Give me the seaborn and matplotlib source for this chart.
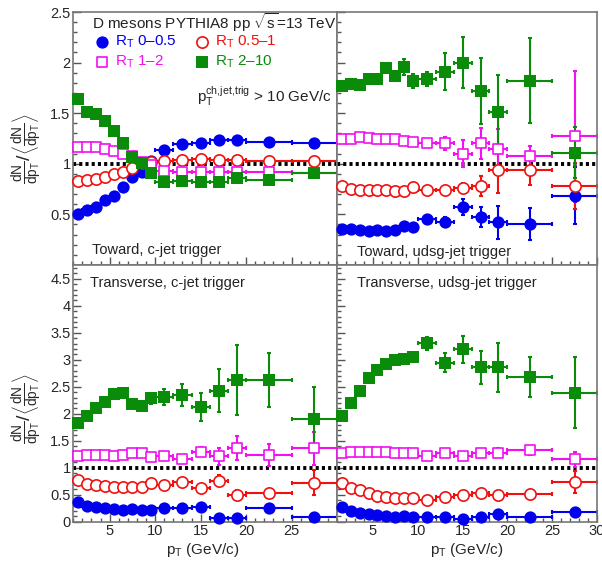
import numpy as np
import pandas as pd
import matplotlib
matplotlib.use('Agg')
import matplotlib.pyplot as plt
from matplotlib.ticker import MultipleLocator, FuncFormatter
import seaborn as sns

# pT bins (centre and half width, GeV/c)
pt = [1.5, 2.5, 3.5, 4.5, 5.5, 6.5, 7.5, 8.5, 9.5, 11, 13, 15, 17, 19, 22.5, 27.5]
pt_half = [0.5, 0.5, 0.5, 0.5, 0.5, 0.5, 0.5, 0.5, 0.5, 1, 1, 1, 1, 1, 2.5, 2.5]

# Toward, c-jet trigger
tow_c_rt1 = [0.50, 0.54, 0.57, 0.64, 0.68, 0.77, 0.87, 0.92, 1.03, 1.14, 1.19, 1.20, 1.23, 1.23, 1.21, 1.20]
tow_c_rt2 = [0.825, 0.84, 0.845, 0.87, 0.90, 0.92, 0.955, 1.005, 1.02, 1.03, 1.04, 1.05, 1.04, 1.035, 1.03, 1.03]
tow_c_rt3 = [1.17, 1.17, 1.165, 1.15, 1.13, 1.10, 1.08, 1.015, 0.99, 0.93, 0.92, 0.915, 0.915, 0.92, 0.92, 0.91]
tow_c_rt4 = [1.64, 1.51, 1.49, 1.42, 1.32, 1.20, 1.07, 1.01, 0.91, 0.82, 0.83, 0.82, 0.82, 0.855, 0.84, 0.91]
tow_c_err1 = [0.01, 0.01, 0.01, 0.01, 0.01, 0.01, 0.01, 0.01, 0.01, 0.01, 0.01, 0.01, 0.01, 0.02, 0.02, 0.02]
tow_c_err2 = [0.01, 0.01, 0.01, 0.01, 0.01, 0.01, 0.01, 0.01, 0.01, 0.01, 0.01, 0.01, 0.01, 0.02, 0.02, 0.02]
tow_c_err3 = [0.01, 0.01, 0.01, 0.01, 0.01, 0.01, 0.01, 0.01, 0.01, 0.01, 0.01, 0.02, 0.02, 0.02, 0.02, 0.02]
tow_c_err4 = [0.01, 0.01, 0.01, 0.01, 0.01, 0.01, 0.01, 0.01, 0.02, 0.02, 0.02, 0.02, 0.03, 0.03, 0.03, 0.03]

# Toward, udsg-jet trigger
tow_u_rt1 = [0.353, 0.353, 0.347, 0.33, 0.347, 0.33, 0.347, 0.38, 0.373, 0.45, 0.42, 0.57, 0.47, 0.42, 0.406, 0.683]
tow_u_rt2 = [0.775, 0.75, 0.743, 0.743, 0.743, 0.737, 0.726, 0.726, 0.77, 0.743, 0.743, 0.76, 0.78, 0.94, 0.94, 0.78]
tow_u_rt3 = [1.24, 1.245, 1.26, 1.255, 1.245, 1.245, 1.24, 1.22, 1.21, 1.20, 1.20, 1.10, 1.20, 1.145, 1.08, 1.27]
tow_u_rt4 = [1.77, 1.79, 1.78, 1.84, 1.84, 1.95, 1.87, 1.96, 1.82, 1.84, 1.91, 2.00, 1.72, 1.51, 1.82, 1.11]
tow_u_err1 = [0.01, 0.01, 0.01, 0.01, 0.01, 0.01, 0.01, 0.02, 0.02, 0.03, 0.05, 0.08, 0.10, 0.16, 0.16, 0.28]
tow_u_err2 = [0.01, 0.01, 0.01, 0.01, 0.01, 0.01, 0.02, 0.02, 0.02, 0.03, 0.04, 0.05, 0.10, 0.23, 0.15, 0.23]
tow_u_err3 = [0.01, 0.01, 0.01, 0.01, 0.01, 0.01, 0.02, 0.02, 0.02, 0.03, 0.06, 0.13, 0.155, 0.20, 0.10, 0.65]
tow_u_err4 = [0.02, 0.02, 0.02, 0.03, 0.03, 0.04, 0.05, 0.08, 0.07, 0.07, 0.18, 0.25, 0.33, 0.37, 0.42, 0.25]

# Transverse, c-jet trigger
tra_c_rt1 = [0.37, 0.29, 0.27, 0.25, 0.23, 0.22, 0.23, 0.22, 0.22, 0.25, 0.25, 0.27, 0.06, 0.06, 0.25, 0.09]
tra_c_rt2 = [0.77, 0.70, 0.68, 0.66, 0.65, 0.65, 0.64, 0.65, 0.71, 0.68, 0.74, 0.62, 0.76, 0.50, 0.54, 0.72]
tra_c_rt3 = [1.22, 1.24, 1.24, 1.24, 1.22, 1.24, 1.28, 1.28, 1.19, 1.22, 1.16, 1.30, 1.21, 1.36, 1.24, 1.36]
tra_c_rt4 = [1.83, 1.95, 2.10, 2.22, 2.36, 2.39, 2.18, 2.15, 2.29, 2.31, 2.35, 2.13, 2.43, 2.63, 2.63, 1.90]
tra_c_err1 = [0.01, 0.01, 0.01, 0.01, 0.01, 0.01, 0.01, 0.01, 0.01, 0.02, 0.02, 0.02, 0.03, 0.03, 0.03, 0.03]
tra_c_err2 = [0.01, 0.01, 0.01, 0.01, 0.01, 0.01, 0.02, 0.02, 0.02, 0.03, 0.04, 0.05, 0.10, 0.08, 0.06, 0.23]
tra_c_err3 = [0.02, 0.02, 0.02, 0.02, 0.02, 0.02, 0.03, 0.03, 0.03, 0.04, 0.05, 0.08, 0.15, 0.22, 0.20, 0.31]
tra_c_err4 = [0.02, 0.02, 0.03, 0.03, 0.04, 0.04, 0.05, 0.07, 0.10, 0.14, 0.20, 0.26, 0.40, 0.65, 0.50, 0.59]

# Transverse, udsg-jet trigger
tra_u_rt1 = [0.27, 0.20, 0.17, 0.14, 0.125, 0.11, 0.09, 0.11, 0.09, 0.09, 0.09, 0.045, 0.08, 0.14, 0.09, 0.185]
tra_u_rt2 = [0.72, 0.62, 0.59, 0.53, 0.48, 0.45, 0.43, 0.43, 0.43, 0.40, 0.45, 0.50, 0.54, 0.50, 0.51, 0.74]
tra_u_rt3 = [1.28, 1.30, 1.30, 1.30, 1.30, 1.30, 1.28, 1.28, 1.27, 1.21, 1.28, 1.21, 1.28, 1.28, 1.32, 1.16]
tra_u_rt4 = [1.96, 2.20, 2.42, 2.66, 2.81, 2.93, 3.00, 3.01, 3.06, 3.31, 2.95, 3.20, 2.86, 2.86, 2.68, 2.39]
tra_u_err1 = [0.01, 0.01, 0.01, 0.01, 0.01, 0.01, 0.01, 0.01, 0.01, 0.02, 0.02, 0.02, 0.03, 0.03, 0.03, 0.05]
tra_u_err2 = [0.01, 0.01, 0.01, 0.01, 0.01, 0.01, 0.01, 0.01, 0.01, 0.02, 0.02, 0.03, 0.04, 0.05, 0.05, 0.20]
tra_u_err3 = [0.01, 0.01, 0.01, 0.01, 0.01, 0.01, 0.01, 0.01, 0.02, 0.03, 0.04, 0.04, 0.05, 0.08, 0.08, 0.14]
tra_u_err4 = [0.02, 0.02, 0.03, 0.03, 0.04, 0.04, 0.05, 0.05, 0.07, 0.12, 0.18, 0.25, 0.30, 0.45, 0.37, 0.66]

series_labels = [r'R$_{\rm T}$ 0–0.5', r'R$_{\rm T}$ 0.5–1', r'R$_{\rm T}$ 1–2', r'R$_{\rm T}$ 2–10']
series_colors = ['#0000ee', '#f01010', '#f010f0', '#0a8c0a']
series_markers = ['o', 'o', 's', 's']
series_filled = [True, False, False, True]
series_sizes = [78, 66, 60, 64]

sns.set_theme(style='ticks')
plt.rcParams['font.family'] = ['Liberation Sans', 'DejaVu Sans']
plt.rcParams['mathtext.fontset'] = 'custom'
plt.rcParams['mathtext.rm'] = 'Liberation Sans'
plt.rcParams['mathtext.it'] = 'Liberation Sans'
plt.rcParams['mathtext.bf'] = 'Liberation Sans:bold'

fig = plt.figure(figsize=(6.02, 5.63), dpi=100)
gs = fig.add_gridspec(2, 2, left=73.3 / 602, right=597 / 602, top=1 - 12 / 563,
                      bottom=1 - 521.7 / 563, hspace=0, wspace=0,
                      height_ratios=[253, 257], width_ratios=[264, 260])
ax_tl = fig.add_subplot(gs[0, 0])
ax_tr = fig.add_subplot(gs[0, 1])
ax_bl = fig.add_subplot(gs[1, 0])
ax_br = fig.add_subplot(gs[1, 1])

panels = [
    (ax_tl, [tow_c_rt1, tow_c_rt2, tow_c_rt3, tow_c_rt4], [tow_c_err1, tow_c_err2, tow_c_err3, tow_c_err4],
     'Toward, c-jet trigger', 0.072, 0.06),
    (ax_tr, [tow_u_rt1, tow_u_rt2, tow_u_rt3, tow_u_rt4], [tow_u_err1, tow_u_err2, tow_u_err3, tow_u_err4],
     'Toward, udsg-jet trigger', 0.075, 0.05),
    (ax_bl, [tra_c_rt1, tra_c_rt2, tra_c_rt3, tra_c_rt4], [tra_c_err1, tra_c_err2, tra_c_err3, tra_c_err4],
     'Transverse, c-jet trigger', 0.064, 0.93),
    (ax_br, [tra_u_rt1, tra_u_rt2, tra_u_rt3, tra_u_rt4], [tra_u_err1, tra_u_err2, tra_u_err3, tra_u_err4],
     'Transverse, udsg-jet trigger', 0.077, 0.93),
]

for ax, vals, errs, label, lx, ly in panels:
    ax.axhline(1, color='black', lw=2.8, ls=(0, (0.8, 0.8)), zorder=1)
    for y, e, col, mk, filled, size in zip(vals, errs, series_colors, series_markers,
                                           series_filled, series_sizes):
        ax.errorbar(pt, y, xerr=pt_half, yerr=e, fmt='none', ecolor=col,
                    elinewidth=1.5, capsize=1.2, capthick=1.5, zorder=2)
        df = pd.DataFrame({'pt': pt, 'ratio': y})
        sns.scatterplot(data=df, x='pt', y='ratio', ax=ax, marker=mk, s=size,
                        color=col, facecolor=col if filled else 'white',
                        edgecolor=col, linewidth=0 if filled else 1.2,
                        zorder=3, clip_on=False, legend=False)
    ax.text(lx, ly, label, transform=ax.transAxes, fontsize=10.5,
            ha='left', va='center', color='#222222')
    ax.set_xlabel('')
    ax.set_ylabel('')
    ax.set_xlim(1, 30)
    ax.xaxis.set_major_locator(MultipleLocator(5))
    ax.xaxis.set_minor_locator(MultipleLocator(1))
    ax.yaxis.set_major_locator(MultipleLocator(0.5))
    ax.yaxis.set_minor_locator(MultipleLocator(0.1))
    ax.tick_params(which='both', direction='in', top=False, right=False,
                   color='#555555', width=1, labelsize=10.5, pad=2)
    ax.tick_params(which='major', length=5.5)
    ax.tick_params(which='minor', length=3)
    for sp in ax.spines.values():
        sp.set_color('#777777')
        sp.set_linewidth(1.2)

for ax in (ax_tl, ax_tr):
    ax.set_ylim(0, 2.5)
    ax.tick_params(labelbottom=False)
for ax in (ax_bl, ax_br):
    ax.set_ylim(0, 4.76)
for ax in (ax_tr, ax_br):
    ax.tick_params(labelleft=False)

ax_tl.yaxis.set_major_formatter(FuncFormatter(lambda v, p: '' if abs(v) < 1e-9 else f'{v:g}'))
ax_bl.yaxis.set_major_formatter(FuncFormatter(lambda v, p: f'{v:g}'))
ax_bl.xaxis.set_major_formatter(FuncFormatter(lambda v, p: '' if v > 29 else f'{v:g}'))
ax_br.xaxis.set_major_formatter(FuncFormatter(lambda v, p: f'{v:g}'))

# header and legend in the first panel
ax_tl.text(0.072, 0.96, r'D mesons PYTHIA8 pp $\sqrt{s}$=13 TeV', transform=ax_tl.transAxes,
           fontsize=11, ha='left', va='center', color='#222222')
leg_x = [0.108, 0.486, 0.108, 0.486]
leg_y = [0.883, 0.883, 0.804, 0.804]
for lab, col, mk, filled, size, x, y in zip(series_labels, series_colors, series_markers,
                                            series_filled, series_sizes, leg_x, leg_y):
    ax_tl.scatter([x], [y], transform=ax_tl.transAxes, marker=mk, s=size,
                  facecolor=col if filled else 'white', edgecolor=col,
                  linewidth=0 if filled else 1.2, clip_on=False, zorder=4)
    ax_tl.text(x + 0.05, y, lab, transform=ax_tl.transAxes, fontsize=11,
               ha='left', va='center', color=col)
ax_tl.text(0.467, 0.665, r'p$_{\rm T}^{\rm ch{,}jet{,}trig}$ > 10 GeV/c', transform=ax_tl.transAxes,
           fontsize=11, ha='left', va='center', color='#222222')

ylab = r'$\frac{dN}{dp_{T}}/\left\langle\frac{dN}{dp_{T}}\right\rangle$'
fig.text(27 / 602, 1 - 148 / 563, ylab, rotation=90, ha='center', va='center', fontsize=14)
fig.text(27 / 602, 1 - 408 / 563, ylab, rotation=90, ha='center', va='center', fontsize=14)

for ax, xc in ((ax_bl, 0.49), (ax_br, 0.5)):
    ax.set_xlabel(r'p$_{\rm T}$ (GeV/c)', fontsize=11)
    ax.xaxis.set_label_coords(xc, -0.075)

fig.savefig('out.png', dpi=100)
